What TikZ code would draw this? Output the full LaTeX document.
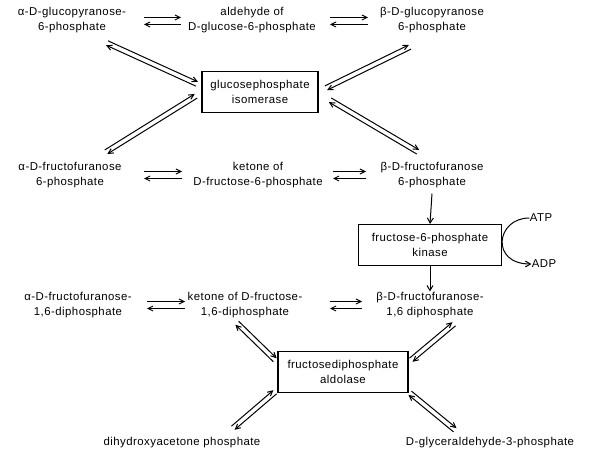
\documentclass[tikz,border=0pt]{standalone}
\usepackage{fontspec}
\setmainfont{Liberation Sans}[LetterSpace=4]
\usetikzlibrary{arrows.meta,calc}
\newcommand\revpair[3][2.4pt]{%
  \draw[tipa] ($(#2)!#1!90:(#3)$) -- ($(#3)!#1!-90:(#2)$);
  \draw[tipa] ($(#3)!#1!90:(#2)$) -- ($(#2)!#1!-90:(#3)$);}
\begin{document}
\begin{tikzpicture}[x=1pt,y=-1pt,line width=1pt,
  lbl/.style={align=center,inner sep=0pt,font=\fontsize{11.4}{15.5}\selectfont},
  enz/.style={draw,line width=1.2pt,align=center,inner sep=2pt,font=\fontsize{11.4}{15.5}\selectfont},
  tipa/.style={-{Straight Barb[length=5pt,width=5pt]}},
  down/.style={-{Straight Barb[length=5pt,width=6pt]}}]
\useasboundingbox (0,0) rectangle (607,454);
% row 1
\node[lbl] (ag) at (72,20) {α-D-glucopyranose-\\6-phosphate};
\node[lbl] (ald) at (252,20) {aldehyde of\\D-glucose-6-phosphate};
\node[lbl] (bg) at (432,20) {β-D-glucopyranose\\6-phosphate};
\node[enz,minimum width=116pt,minimum height=41pt] (iso) at (260,92) {glucosephosphate\\isomerase};
% row 2
\node[lbl] (af) at (70,175) {α-D-fructofuranose\\6-phosphate};
\node[lbl] (ket) at (258,175) {ketone of\\D-fructose-6-phosphate};
\node[lbl] (bf) at (432,175) {β-D-fructofuranose\\6-phosphate};
\node[enz,minimum width=143pt,minimum height=41pt] (kin) at (430,245) {fructose-6-phosphate\\kinase};
\node[lbl] (atp) at (541,218) {ATP};
\node[lbl] (adp) at (544,264) {ADP};
% row 3
\node[lbl] (af2) at (78,305) {α-D-fructofuranose-\\1,6-diphosphate};
\node[lbl] (ket2) at (245,305) {ketone of D-fructose-\\1,6-diphosphate};
\node[lbl] (bf2) at (430,305) {β-D-fructofuranose-\\1,6 diphosphate};
\node[enz,minimum width=130pt,minimum height=41pt] (aldol) at (343,372) {fructosediphosphate\\aldolase};
\node[lbl] (dhap) at (182,443) {dihydroxyacetone phosphate};
\node[lbl] (gap) at (490,443) {D-glyceraldehyde-3-phosphate};
% connector ends
\coordinate (h1a) at (144,21); \coordinate (h1b) at (181,21);
\coordinate (h2a) at (330,21); \coordinate (h2b) at (368,21);
\coordinate (d1a) at (107,43); \coordinate (d1b) at (197,84);
\coordinate (d2a) at (326,88); \coordinate (d2b) at (410,47);
\coordinate (d3a) at (196,96); \coordinate (d3b) at (106,152);
\coordinate (d4a) at (330,100); \coordinate (d4b) at (418,152);
\coordinate (h3a) at (144,175); \coordinate (h3b) at (182,175);
\coordinate (h4a) at (333,175); \coordinate (h4b) at (366,175);
\coordinate (h5a) at (147,305); \coordinate (h5b) at (185,305);
\coordinate (h6a) at (330,305); \coordinate (h6b) at (362,305);
\coordinate (d5a) at (237,323); \coordinate (d5b) at (275,360);
\coordinate (d6a) at (411,360); \coordinate (d6b) at (454,324);
\coordinate (d7a) at (275,392); \coordinate (d7b) at (233,428);
\coordinate (d8a) at (410,393); \coordinate (d8b) at (455,430);
\revpair[3.5pt]{h1a}{h1b}
\revpair[3.5pt]{h2a}{h2b}
\revpair{d1a}{d1b}
\revpair{d2a}{d2b}
\revpair{d3a}{d3b}
\revpair{d4a}{d4b}
\revpair[3.5pt]{h3a}{h3b}
\revpair[3.5pt]{h4a}{h4b}
\revpair[3.5pt]{h5a}{h5b}
\revpair[3.5pt]{h6a}{h6b}
\revpair{d5a}{d5b}
\revpair{d6a}{d6b}
\revpair{d7a}{d7b}
\revpair{d8a}{d8b}
\draw[down] (bf.south) ++(0,5) -- (kin.north);
\draw[down] (kin.south) -- (bf2.north);
\draw[-{Straight Barb[length=5pt,width=6pt]}] (atp.west) .. controls (496,218) and (490,264) .. (adp.west);
\end{tikzpicture}
\end{document}
